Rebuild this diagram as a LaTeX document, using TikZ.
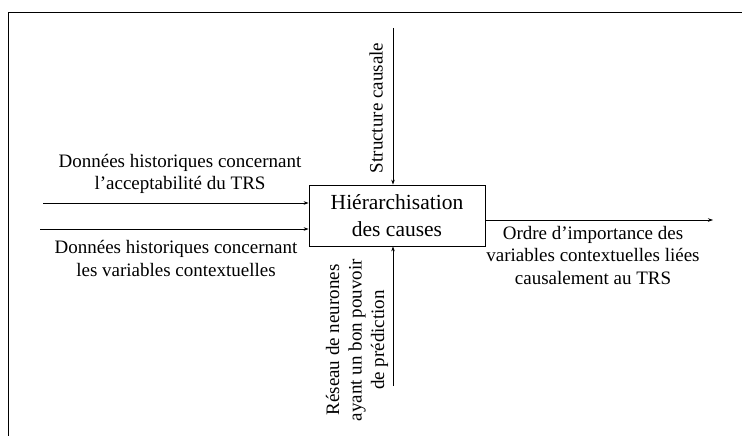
\documentclass[tikz,border=0pt]{standalone}
\usepackage{fontspec}
\setmainfont{Liberation Serif}
\usetikzlibrary{arrows.meta}
\begin{document}
\begin{tikzpicture}[x=1pt,y=-1pt,
  lbl/.style={align=center,font=\fontsize{19}{22.5}\selectfont,inner sep=0pt},
  arr/.style={-{Stealth[length=5pt,width=3.5pt]},line width=0.6pt},
  procbox/.style={draw,line width=0.8pt,minimum width=176pt,minimum height=61pt,align=center,font=\fontsize{21.5}{27}\selectfont,inner sep=0pt}]
\useasboundingbox (0,0) rectangle (742,436);
\draw[line width=0.8pt] (8,436) -- (8,12) -- (742,12);
\node[procbox] (box) at (397,215.5) {Hiérarchisation\\des causes};
\coordinate (in1) at (43,203);
\coordinate (in2) at (40,229);
\coordinate (ctop) at (393,28);
\coordinate (mbot) at (393,386);
\coordinate (out) at (713,220);
\draw[arr] (in1) -- (in1 -| box.west);
\draw[arr] (in2) -- (in2 -| box.west);
\draw[arr] (ctop) -- (ctop |- box.north);
\draw[arr] (mbot) -- (mbot |- box.south);
\draw[arr] (out -| box.east) -- (out);
\node[lbl] (t1) at (180,174) {Données historiques concernant\\l’acceptabilité du TRS};
\node[lbl] (t2) at (176,258.5) {Données historiques concernant\\les variables contextuelles};
\node[lbl,rotate=90] (t3) at (376,108) {Structure causale};
\node[lbl,rotate=90] (t4) at (357,340) {Réseau de neurones\\ayant un bon pouvoir\\de prédiction};
\node[lbl] (t5) at (593,255) {Ordre d’importance des\\variables contextuelles liées\\causalement au TRS};
\end{tikzpicture}
\end{document}
